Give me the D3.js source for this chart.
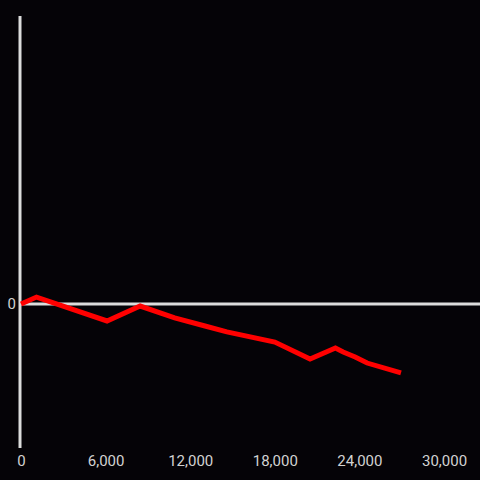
<!DOCTYPE html>
<html>
<head>
<meta charset="utf-8">
<script src="https://cdn.jsdelivr.net/npm/d3@7"></script>
<style>
  html, body { margin: 0; padding: 0; background: #050307; }
  svg { display: block; }
</style>
</head>
<body>
<svg id="chart" width="480" height="480"></svg>
<script>
// Data
const xValues = [0, 1100, 6100, 8450, 10900, 13050, 14600, 18000, 20500, 22300, 22850, 23700, 24550, 26950];
const yValues = [0, 4.8, -11.8, -1.4, -9.7, -15.3, -19.4, -26.4, -38.2, -30.6, -33.3, -36.8, -41, -47.9];
const xTicks = [0, 6000, 12000, 18000, 24000, 30000];
const yTicks = [0];

const svg = d3.select("#chart");
const W = 480, H = 480;
svg.append("rect").attr("width", W).attr("height", H).attr("fill", "#050307");

const x = d3.scaleLinear().domain([0, 30000]).range([21, 444]);
const y = d3.scaleLinear().domain([-100, 200]).range([448, 16]);

const axisColor = "#dcdcdc";
const textColor = "#d2d2d2";

// Y axis line
svg.append("line")
  .attr("x1", 20).attr("x2", 20)
  .attr("y1", y(200)).attr("y2", y(-100))
  .attr("stroke", axisColor).attr("stroke-width", 3);

// Zero line
svg.append("line")
  .attr("x1", 20).attr("x2", W)
  .attr("y1", y(0)).attr("y2", y(0))
  .attr("stroke", axisColor).attr("stroke-width", 3);

// X axis labels
const xAxis = d3.axisBottom(x).tickValues(xTicks).tickSize(0).tickPadding(0)
  .tickFormat(d3.format(","));
const gx = svg.append("g").attr("transform", "translate(0,455)").call(xAxis);
gx.select(".domain").remove();
gx.selectAll("text")
  .attr("fill", textColor)
  .attr("dy", "0.71em")
  .style("font-family", "Roboto, sans-serif")
  .style("font-size", "15px");

// Y axis labels
const yAxis = d3.axisLeft(y).tickValues(yTicks).tickSize(0).tickPadding(0);
const gy = svg.append("g").attr("transform", "translate(16,0)").call(yAxis);
gy.select(".domain").remove();
gy.selectAll("text")
  .attr("fill", textColor)
  .style("font-family", "Roboto, sans-serif")
  .style("font-size", "15px");

// Line
const data = xValues.map((v, i) => ({ x: v, y: yValues[i] }));
const line = d3.line().x(d => x(d.x)).y(d => y(d.y));
svg.append("path")
  .datum(data)
  .attr("d", line)
  .attr("fill", "none")
  .attr("stroke", "#ff0000")
  .attr("stroke-width", 5)
  .attr("stroke-linejoin", "miter");
</script>
</body>
</html>
